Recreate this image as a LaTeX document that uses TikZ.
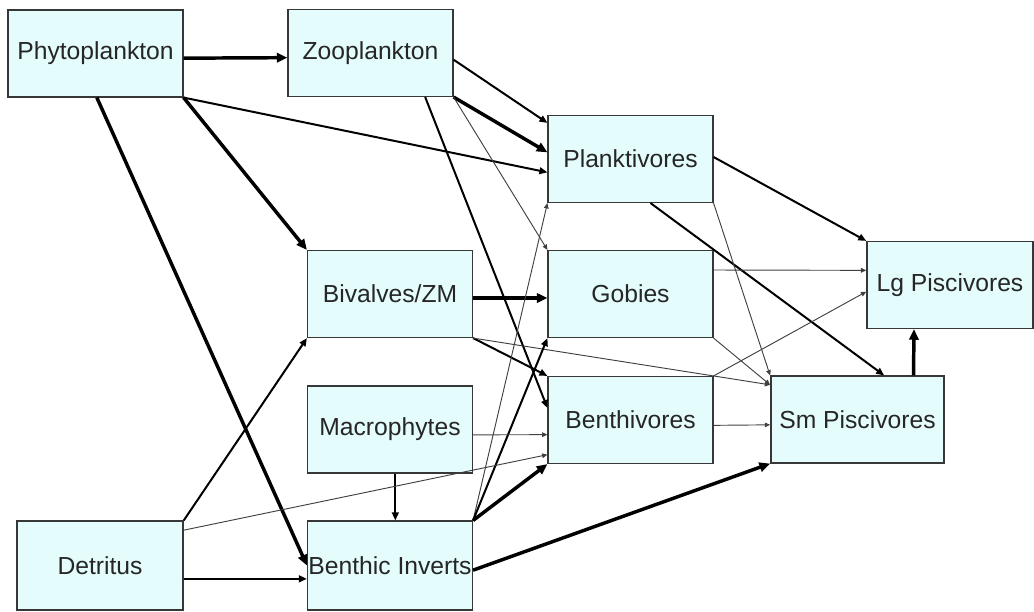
\documentclass[tikz,border=0pt]{standalone}
\usepackage{fontspec}
\setmainfont{Liberation Sans}
\usetikzlibrary{arrows.meta}

\definecolor{boxfill}{RGB}{228,252,252}
\definecolor{boxline}{RGB}{55,55,55}
\tikzset{
  taxon/.style={shape=rectangle,draw=boxline,fill=boxfill,line width=1.1pt,
    minimum width=123.5pt,minimum height=65pt,inner sep=0pt,
    font=\fontsize{18.5}{22}\selectfont,text=black!85},
  bigflow/.style={line width=2.6pt,-{Triangle[length=8pt,width=7pt]}},
  midflow/.style={line width=1.5pt,-{Triangle[length=6pt,width=5pt]}},
  thinflow/.style={line width=0.7pt,draw=black!75,-{Triangle[length=4pt,width=3.5pt]}},
}

\begin{document}
\begin{tikzpicture}[x=0.75pt,y=-0.75pt]
        \useasboundingbox (0,0) rectangle (1034,611);

        \node[taxon,minimum width=131pt] (phyto) at (95.5,53.5)   {Phytoplankton};
        \node[taxon] (zoo)     at (370.5,53)   {Zooplankton};
        \node[taxon] (biv)     at (390,294)    {Bivalves/ZM};
        \node[taxon] (macro)   at (390,429.5)  {Macrophytes};
        \node[taxon,minimum height=66.5pt] (binv) at (390,565.5) {Benthic Inverts};
        \node[taxon,minimum height=66.5pt,minimum width=124.5pt] (detr) at (100,565.5) {Detritus};
        \node[taxon] (plank)   at (630.5,159)  {Planktivores};
        \node[taxon] (gobies)  at (630.5,294)  {Gobies};
        \node[taxon] (benthiv) at (630.5,420)  {Benthivores};
        \node[taxon,minimum width=130pt] (smpisc) at (857.5,419.5) {Sm Piscivores};
        \node[taxon,minimum width=124.5pt] (lgpisc) at (950,285) {Lg Piscivores};

	\draw[bigflow] ([yshift=-3.5pt]phyto.east) -- ([yshift=-3.5pt]zoo.west);
	\draw[midflow] (phyto.south east) -- ([yshift=-10pt]plank.west);
	\draw[bigflow] (phyto.south east) -- (biv.north west);
	\draw[bigflow] ([xshift=1pt]phyto.south) -- (binv.west);
	\draw[midflow] ([yshift=-5pt]zoo.east) -- ([yshift=-6pt]plank.north west);
	\draw[bigflow] (zoo.south east) -- ([yshift=5pt]plank.west);
	\draw[thinflow] (zoo.south east) -- (gobies.north west);
	\draw[midflow] ([xshift=41pt]zoo.south) -- ([yshift=9pt]benthiv.west);
	\draw[bigflow] ([yshift=-3pt]biv.east) -- ([yshift=-3pt]gobies.west);
	\draw[midflow] (biv.south east) -- (benthiv.north west);
	\draw[thinflow] (biv.south east) -- ([yshift=26pt]smpisc.west);
	\draw[thinflow] (binv.north east) -- (plank.south west);
	\draw[midflow] (binv.north east) -- (gobies.south west);
	\draw[bigflow] (binv.north east) -- (benthiv.south west);
	\draw[thinflow] ([yshift=-4pt]macro.east) -- ([yshift=-11pt]benthiv.west);
	\draw[midflow] ([xshift=4pt]macro.south) -- ([xshift=4pt]binv.north);
	\draw[midflow] (detr.north east) -- (biv.south west);
	\draw[thinflow] ([yshift=26.5pt]detr.east) -- ([yshift=-26pt]benthiv.west);
	\draw[midflow] ([yshift=-10pt]detr.east) -- ([yshift=-10pt]binv.west);
	\draw[bigflow] ([yshift=-3.5pt]binv.east) -- (smpisc.south west);
	\draw[midflow] ([yshift=1.5pt]plank.east) -- (lgpisc.north west);
	\draw[midflow] ([xshift=15pt]plank.south) -- ([xshift=20pt]smpisc.north);
	\draw[thinflow] (plank.south east) -- (smpisc.north west);
	\draw[thinflow] ([yshift=18pt]gobies.east) -- ([yshift=11pt]lgpisc.west);
	\draw[thinflow] (gobies.south east) -- ([yshift=26pt]smpisc.west);
	\draw[thinflow] (benthiv.north east) -- ([yshift=-5pt]lgpisc.west);
	\draw[thinflow] ([yshift=-4pt]benthiv.east) -- ([yshift=-4pt]smpisc.west);
	\draw[bigflow] ([xshift=42pt]smpisc.north) -- ([xshift=-27pt]lgpisc.south);
	\end{tikzpicture}
\end{document}
